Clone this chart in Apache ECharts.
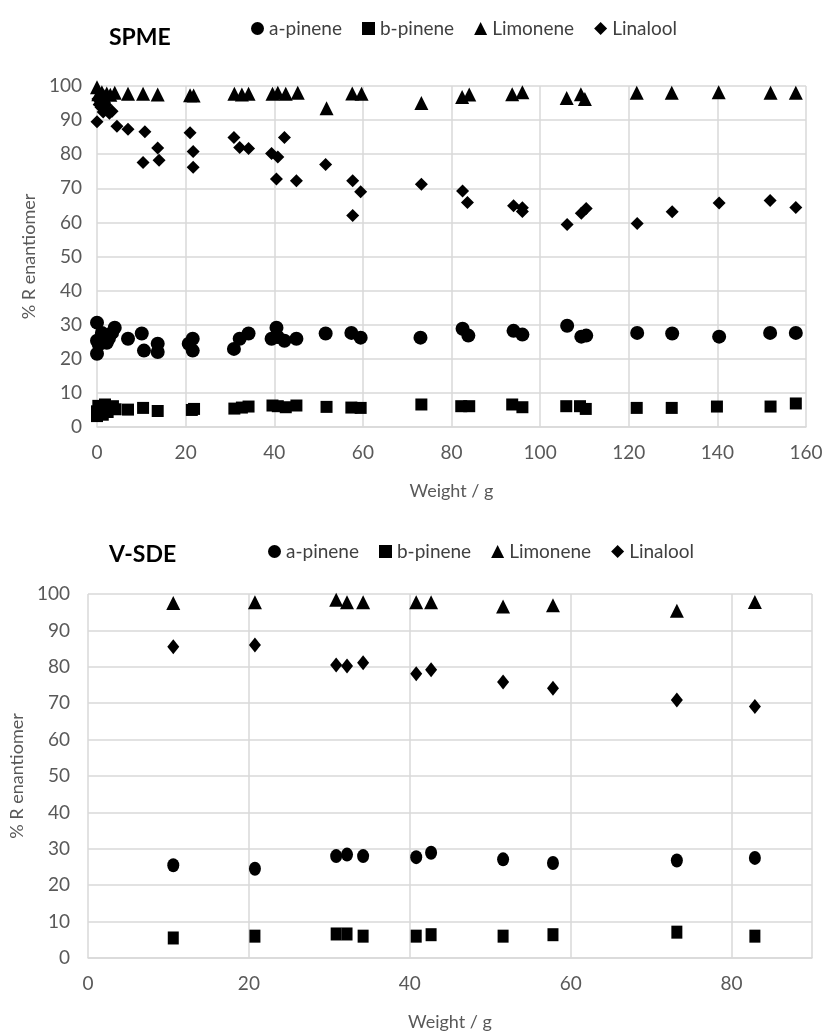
<!DOCTYPE html>
<html>
<head>
<meta charset="utf-8">
<script src="https://cdn.jsdelivr.net/npm/echarts@6/dist/echarts.min.js"></script>
<style>
  html, body { margin: 0; padding: 0; background: #fff; }
  #chart { width: 826px; height: 1032px; }
</style>
</head>
<body>
<div id="chart"></div>
<script>
// compounds shown in both panels
const compounds = ['a-pinene', 'b-pinene', 'Limonene', 'Linalool'];
const symbols = ['circle', 'rect', 'triangle', 'diamond'];

// SPME panel: [weight g, % R enantiomer]
const spmeApinene = [
    [0, 30.6], [0, 21.5], [0, 25.3], [0.4, 24.2], [1.1, 27.6], [2.2, 24.7], [2.7, 26], [3.4, 27.6], [4, 29.1],
    [7, 25.9], [10.1, 27.4], [10.6, 22.4], [13.7, 24.4], [13.7, 22], [20.7, 24.4], [21.6, 25.9], [21.6, 22.4],
    [30.9, 22.9], [32.2, 25.9], [34.2, 27.4], [39.4, 25.9], [40.5, 29.1], [40.8, 26.4], [42.3, 25.3], [45, 25.9],
    [51.6, 27.4], [57.4, 27.6], [59.5, 26.2], [73, 26.2], [82.5, 28.8], [83.8, 26.8], [94, 28.2], [96, 27.1],
    [106.1, 29.7], [109.3, 26.5], [110.4, 26.8], [121.9, 27.6], [129.8, 27.4], [140.4, 26.5], [151.9, 27.6], [157.7, 27.6]
];
const spmeBpinene = [
    [0, 3.2], [0, 4.6], [0.3, 6.2], [0.8, 5.1], [1.3, 3.6], [1.8, 6.6], [2.4, 4.4], [3, 5.6], [3.6, 6.1], [4.2, 5.2],
    [7, 5.1], [10.4, 5.6], [13.7, 4.7], [21.4, 5], [21.9, 5.3], [31, 5.4], [32.7, 5.7], [34.2, 6], [39.6, 6.3],
    [40.8, 6.1], [42.6, 5.8], [45, 6.3], [51.8, 5.9], [57.4, 5.7], [59.5, 5.6], [73.2, 6.6], [82.2, 6.1], [84, 6.1],
    [93.7, 6.6], [96, 5.8], [105.9, 6.1], [109, 6.1], [110.3, 5.3], [121.8, 5.6], [129.7, 5.6], [139.9, 6],
    [152, 6], [157.7, 6.9]
];
const spmeLimonene = [
    [0, 99.6], [0.3, 97.6], [0.7, 96.4], [1.1, 98.2], [1.6, 97], [2.2, 97.8], [3, 97.4], [4, 98],
    [7, 97.7], [10.4, 97.7], [13.7, 97.5], [21, 97.3], [21.8, 97.2], [31, 97.7], [32.7, 97.5], [34.2, 97.7],
    [39.6, 97.7], [40.8, 98], [42.6, 97.7], [45.3, 98], [51.8, 93.5], [57.6, 97.8], [59.7, 97.7], [73.2, 95],
    [82.4, 96.8], [84, 97.5], [93.7, 97.6], [96, 98.2], [106, 96.5], [109.2, 97.6], [110.1, 96.2],
    [121.8, 98], [129.7, 98], [140.3, 98.2], [152, 98], [157.7, 98]
];
const spmeLinalool = [
    [0, 89.5], [0.2, 96.2], [0.5, 94.6], [0.9, 93.8], [1.4, 92.4], [2, 94.4], [2.8, 92], [3.4, 92.6], [4.5, 88.2],
    [7, 87.3], [10.4, 77.6], [10.8, 86.6], [13.7, 81.8], [14, 78.2], [21, 86.3], [21.7, 80.8], [21.7, 76.2],
    [30.9, 84.9], [32.2, 82], [34.2, 81.7], [39.4, 80.2], [40.8, 79.2], [40.5, 72.7], [42.3, 84.9], [45, 72.2],
    [51.6, 77], [57.7, 72.2], [57.7, 62], [59.5, 69], [73.2, 71.2], [82.5, 69.2], [83.6, 65.8], [94, 64.9],
    [96, 64.3], [96, 63.2], [106.1, 59.4], [109.3, 62.7], [110.4, 64.1], [121.9, 59.7], [129.8, 63.1],
    [140.4, 65.7], [151.9, 66.4], [157.7, 64.4]
];

// V-SDE panel
const sdeWeight = [10.6, 20.75, 30.85, 32.2, 34.2, 40.8, 42.65, 51.6, 57.8, 73.2, 82.9];
const sdeApinene = [25.5, 24.5, 28, 28.4, 28, 27.7, 28.9, 27.1, 26.1, 26.8, 27.5];
const sdeBpinene = [5.5, 6, 6.6, 6.6, 6, 6, 6.4, 6, 6.4, 7.1, 6];
const sdeLimonene = [97.5, 97.7, 98.4, 97.7, 97.7, 97.7, 97.7, 96.6, 96.9, 95.4, 97.8];
const sdeLinalool = [85.5, 86, 80.5, 80.2, 81.1, 78.1, 79.2, 75.8, 74.1, 70.9, 69.1];

const FONT = 'Lato';
const gridColor = '#d9d9d9';
const labelColor = '#595959';

function xAxisFor(gridIndex, max, labelMargin) {
    return {
        type: 'value', gridIndex: gridIndex, min: 0, max: max, interval: 20,
        name: 'Weight / g', nameLocation: 'middle', nameGap: 55,
        nameTextStyle: { fontFamily: FONT, fontSize: 18, color: labelColor },
        axisLine: { show: true, lineStyle: { color: gridColor, width: 1.5 } },
        axisTick: { show: false },
        axisLabel: { margin: labelMargin, fontFamily: FONT, fontSize: 19, color: labelColor, showMaxLabel: max % 20 === 0 },
        splitLine: { show: true, lineStyle: { color: gridColor, width: 1.5 } }
    };
}

function yAxisFor(gridIndex, nameGap, labelMargin) {
    return {
        type: 'value', gridIndex: gridIndex, min: 0, max: 100, interval: 10,
        name: '% R enantiomer', nameLocation: 'middle', nameGap: nameGap,
        nameTextStyle: { fontFamily: FONT, fontSize: 18, color: labelColor },
        axisLine: { show: false },
        axisTick: { show: false },
        axisLabel: { margin: labelMargin, fontFamily: FONT, fontSize: 19, color: labelColor },
        splitLine: { show: true, lineStyle: { color: gridColor, width: 1.5 } }
    };
}

function scatter(name, sym, data, gridIndex, size) {
    return {
        type: 'scatter', name: name, symbol: sym, symbolSize: size,
        xAxisIndex: gridIndex, yAxisIndex: gridIndex,
        itemStyle: { color: '#000', opacity: 1 },
        data: data
    };
}

function legendAt(left, top) {
    return {
        left: left, top: top, itemGap: 20, itemWidth: 13, itemHeight: 13,
        textStyle: { fontFamily: FONT, fontSize: 19, color: '#404040' },
        data: compounds
    };
}

const spmeSets = [spmeApinene, spmeBpinene, spmeLimonene, spmeLinalool];
const sdeSets = [sdeApinene, sdeBpinene, sdeLimonene, sdeLinalool];
const spmeSizes = [14, 12, 14, 13];
const sdeSizes = [[12, 14], [11, 13], 14, [12, 15]];

const series = [];
compounds.forEach((c, i) => {
    series.push(scatter(c, symbols[i], spmeSets[i], 0, spmeSizes[i]));
});
compounds.forEach((c, i) => {
    series.push(scatter(c, symbols[i], sdeWeight.map((w, j) => [w, sdeSets[i][j]]), 1, sdeSizes[i]));
});

const chart = echarts.init(document.getElementById('chart'));
chart.setOption({
    animation: false,
    backgroundColor: '#fff',
    title: [
        { text: 'SPME', left: 104, top: 21, textStyle: { fontFamily: FONT, fontSize: 23, fontWeight: 'bold', color: '#000' } },
        { text: 'V-SDE', left: 104, top: 538, textStyle: { fontFamily: FONT, fontSize: 23, fontWeight: 'bold', color: '#000' } }
    ],
    legend: [legendAt(246, 14), legendAt(263, 537)],
    grid: [
        { left: 97, right: 20, top: 86, height: 341 },
        { left: 88, right: 14, top: 594, height: 365 }
    ],
    xAxis: [xAxisFor(0, 160, 16), xAxisFor(1, 90, 16)],
    yAxis: [yAxisFor(0, 55, 15), yAxisFor(1, 57, 18)],
    series: series
});
</script>
</body>
</html>
